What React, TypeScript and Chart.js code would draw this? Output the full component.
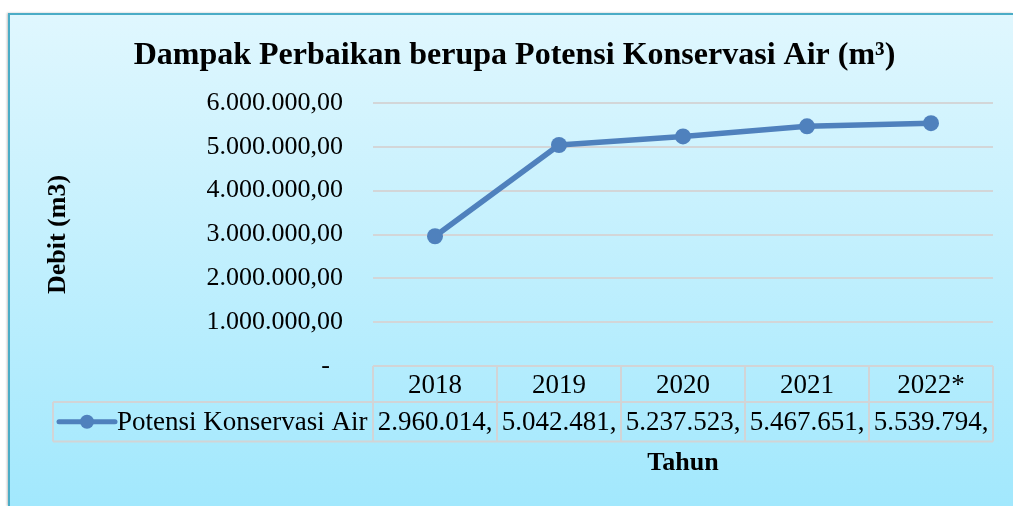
import { useEffect, useRef } from 'react';
import { Chart, registerables } from 'chart.js';

Chart.register(...registerables);

const chartTitle = 'Dampak Perbaikan berupa Potensi Konservasi Air (m³)';
const yAxisTitle = 'Debit (m3)';
const xAxisTitle = 'Tahun';
const categories = ['2018', '2019', '2020', '2021', '2022*'];
const seriesName = 'Potensi Konservasi Air';
const seriesValues = [2960014, 5042481, 5237523, 5467651, 5539794];
const yMin = 0;
const yMax = 6000000;
const yStep = 1000000;

const SERIF = "'Liberation Serif', 'Times New Roman', serif";
const LINE_COLOR = '#4f81bd';
const TABLE_COLOR = '#d2d4d6';

function fmtInt(v: number): string {
  return Math.floor(v).toString().replace(/\B(?=(\d{3})+(?!\d))/g, '.');
}
function yLabel(v: number): string {
  return v === 0 ? '-  ' : fmtInt(v) + ',00';
}
function tableLabel(v: number): string {
  return fmtInt(v) + ',';
}

const backgroundPlugin = {
  id: 'bgFrame',
  beforeDraw(chart: any) {
    const { ctx, width, height } = chart;
    ctx.save();
    const g = ctx.createLinearGradient(0, 0, 0, height);
    g.addColorStop(0, '#e0f7fe');
    g.addColorStop(1, '#a2e8fd');
    ctx.fillStyle = g;
    ctx.fillRect(0, 0, width, height);
    ctx.strokeStyle = '#4bacc6';
    ctx.lineWidth = 2;
    ctx.beginPath();
    ctx.moveTo(1, height + 5);
    ctx.lineTo(1, 1);
    ctx.lineTo(width + 5, 1);
    ctx.stroke();
    ctx.restore();
  },
};

const tablePlugin = {
  id: 'dataTable',
  afterDraw(chart: any) {
    const { ctx, chartArea } = chart;
    const xs = chart.scales.x;
    const ys = chart.scales.y;
    const top = ys.getPixelForValue(0);
    const mid = top + 36;
    const bot = mid + 39.5;
    const legendLeft = 45;
    const half = (xs.getPixelForValue(1) - xs.getPixelForValue(0)) / 2;
    const line = (x1: number, y1: number, x2: number, y2: number) => {
      ctx.beginPath();
      ctx.moveTo(x1, y1);
      ctx.lineTo(x2, y2);
      ctx.stroke();
    };
    ctx.save();
    ctx.strokeStyle = TABLE_COLOR;
    ctx.lineWidth = 2;
    line(chartArea.left, top, chartArea.right, top);
    line(legendLeft, mid, chartArea.right, mid);
    line(legendLeft, bot, chartArea.right, bot);
    line(legendLeft, mid, legendLeft, bot);
    for (let i = 0; i < categories.length; i++) {
      const xb = xs.getPixelForValue(i) - half;
      line(xb, top, xb, bot);
    }
    const xe = xs.getPixelForValue(categories.length - 1) + half;
    line(xe, top, xe, bot);

    const cy = (mid + bot) / 2;
    const ds = chart.data.datasets[0];
    ctx.strokeStyle = ds.borderColor;
    ctx.lineWidth = 5;
    ctx.lineCap = 'round';
    line(51, cy, 107, cy);
    ctx.fillStyle = ds.borderColor;
    ctx.beginPath();
    ctx.arc(79, cy, 7, 0, Math.PI * 2);
    ctx.fill();

    ctx.fillStyle = '#000';
    ctx.font = `27px ${SERIF}`;
    ctx.textBaseline = 'middle';
    ctx.textAlign = 'left';
    ctx.fillText(ds.label, 109, cy + 1);
    ctx.textAlign = 'center';
    (ds.data as number[]).forEach((v, i) => {
      ctx.fillText(tableLabel(v), xs.getPixelForValue(i), cy + 1);
    });
    ctx.restore();
  },
};

export default function App() {
  const canvasRef = useRef<HTMLCanvasElement>(null);

  useEffect(() => {
    if (!canvasRef.current) return;
    const chart = new Chart(canvasRef.current, {
      type: 'line',
      data: {
        labels: categories,
        datasets: [
          {
            label: seriesName,
            data: seriesValues,
            borderColor: LINE_COLOR,
            backgroundColor: LINE_COLOR,
            borderWidth: 5.5,
            borderCapStyle: 'round',
            borderJoinStyle: 'round',
            pointRadius: 8,
            pointHoverRadius: 8,
            pointBackgroundColor: LINE_COLOR,
            pointBorderWidth: 0,
            tension: 0,
          },
        ],
      },
      options: {
        animation: false,
        responsive: true,
        maintainAspectRatio: false,
        layout: { padding: { left: 28, right: 20, top: 0, bottom: 0 } },
        plugins: {
          legend: { display: false },
          tooltip: { enabled: false },
          title: {
            display: true,
            text: chartTitle,
            color: '#000',
            font: { family: SERIF, size: 32, weight: 'bold' },
            padding: { top: 24, bottom: 27.6 },
          },
        },
        scales: {
          x: {
            offset: true,
            grid: { display: false, drawTicks: false },
            border: { display: false },
            ticks: {
              color: '#000',
              font: { family: SERIF, size: 27 },
              padding: 4,
              maxRotation: 0,
            },
            title: {
              display: true,
              text: xAxisTitle,
              color: '#000',
              font: { family: SERIF, size: 26, weight: 'bold' },
              padding: { top: 0, bottom: 27 },
            },
            afterFit: (scale: any) => {
              scale.height = 140;
            },
          },
          y: {
            min: yMin,
            max: yMax,
            grid: { color: '#d3d6d8', lineWidth: 2, drawTicks: false },
            border: { display: false },
            ticks: {
              stepSize: yStep,
              color: '#000',
              font: { family: SERIF, size: 26 },
              padding: 30,
              callback: (v: any) => yLabel(Number(v)),
            },
            title: {
              display: true,
              text: yAxisTitle,
              color: '#000',
              font: { family: SERIF, size: 26, weight: 'bold' },
              padding: { top: 7, bottom: 0 },
            },
            afterFit: (scale: any) => {
              scale.width = 337;
            },
          },
        },
      },
      plugins: [backgroundPlugin, tablePlugin],
    });
    return () => chart.destroy();
  }, []);

  return (
    <div
      style={{
        position: 'fixed',
        left: 8,
        top: 13,
        width: 1005,
        height: 493,
        boxShadow: '-1px 0 2px rgba(0,0,0,0.25)',
      }}
    >
      <canvas ref={canvasRef} />
    </div>
  );
}
